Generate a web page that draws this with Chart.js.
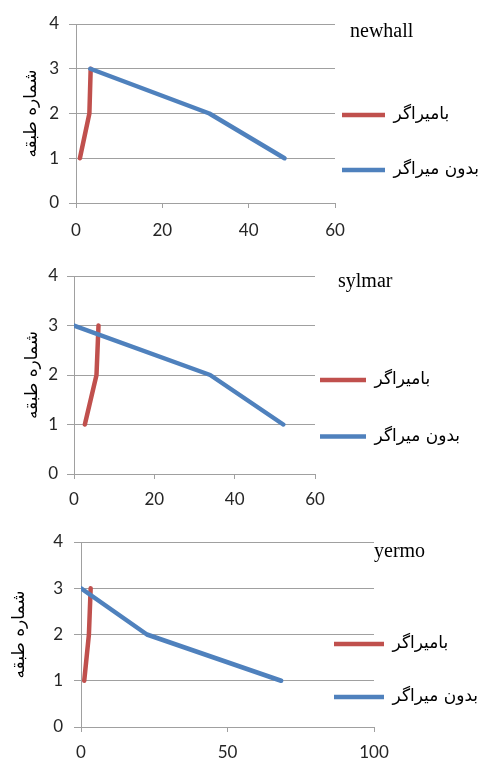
<!DOCTYPE html>
<html>
<head>
<meta charset="utf-8">
<script src="https://cdn.jsdelivr.net/npm/chart.js@4.4.1/dist/chart.umd.min.js"></script>
<style>
  html, body { margin: 0; padding: 0; background: #ffffff; }
  .panel { position: absolute; left: 0; width: 489px; }
  .panel canvas { display: block; }
</style>
</head>
<body>
<div class="panel" style="top:0;height:250px"><canvas id="newhall" width="489" height="250"></canvas></div>
<div class="panel" style="top:250px;height:260px"><canvas id="sylmar" width="489" height="260"></canvas></div>
<div class="panel" style="top:510px;height:252px"><canvas id="yermo" width="489" height="252"></canvas></div>
<script>
// Storey numbers shared by every record
const floors = [1, 2, 3];
const seriesNames = ['بامیراگر', 'بدون میراگر'];
const yAxisTitle = 'شماره طبقه';
const records = ['newhall', 'sylmar', 'yermo'];

// Storey response per record, listed floor 1 → 3
const newhallDamped   = [0.9, 3.1, 3.4];
const newhallUndamped = [48.3, 30.9, 3.3];
const sylmarDamped    = [2.7, 5.6, 6.1];
const sylmarUndamped  = [52.1, 33.9, 0];
const yermoDamped     = [1.1, 2.7, 3.3];
const yermoUndamped   = [68.3, 22.5, 0];

// Tick labels
const yTicks = [0, 1, 2, 3, 4];
const xTicks60 = [0, 20, 40, 60];
const xTicks100 = [0, 50, 100];

const RED = '#C0504D';
const BLUE = '#4F81BD';
const GRID = '#a0a0a0';
const TEXT = '#262626';
const ARABIC = "'DejaVu Sans', sans-serif";
const LEGEND_FONT = 17;

// Moves the legend column to a fixed spot next to the plot
const legendPin = {
  id: 'legendPin',
  afterLayout(chart, args, opts) {
    const lg = chart.legend;
    if (!lg) return;
    const pad = opts.gap - LEGEND_FONT;
    lg.left = opts.x - pad;
    lg.right = lg.left + lg.width;
    lg.top = opts.y - LEGEND_FONT / 2 - pad;
    lg.bottom = chart.height * 3;
  }
};

// Record name written above the legend
const caption = {
  id: 'caption',
  afterDraw(chart, args, o) {
    const ctx = chart.ctx;
    ctx.save();
    ctx.font = "20px 'Liberation Serif', 'Times New Roman', serif";
    ctx.fillStyle = '#000000';
    ctx.textAlign = 'left';
    ctx.textBaseline = 'alphabetic';
    ctx.fillText(o.text, o.x, o.y);
    ctx.restore();
  }
};

function points(values) {
  return floors.map((f, i) => ({ x: values[i], y: f }));
}

function tickSetter(list) {
  return (scale) => { scale.ticks = list.map(v => ({ value: v })); };
}

function drawPanel(id, cfg) {
  const h = document.getElementById(id).height;
  const xAxisHeight = h - cfg.area.bottom;
  new Chart(document.getElementById(id), {
    type: 'scatter',
    data: {
      datasets: [
        {
          label: seriesNames[0],
          data: points(cfg.damped),
          borderColor: RED,
          backgroundColor: RED,
          order: 1
        },
        {
          label: seriesNames[1],
          data: points(cfg.undamped),
          borderColor: BLUE,
          backgroundColor: BLUE,
          order: 0
        }
      ].map(ds => Object.assign(ds, {
        showLine: true,
        borderWidth: 4.5,
        pointRadius: 0,
        pointHoverRadius: 0,
        borderCapStyle: 'round',
        borderJoinStyle: 'round',
        tension: 0
      }))
    },
    options: {
      responsive: false,
      animation: false,
      events: [],
      layout: {
        padding: {
          left: 0,
          top: cfg.area.top,
          right: 489 - cfg.area.right,
          bottom: 0
        }
      },
      scales: {
        x: {
          type: 'linear',
          min: 0,
          max: cfg.xMax,
          afterBuildTicks: tickSetter(cfg.xTicks),
          afterFit: (s) => { s.height = xAxisHeight; },
          grid: { drawOnChartArea: false, drawTicks: true, tickLength: 5, color: GRID, lineWidth: 1 },
          border: { display: true, color: GRID, width: 1 },
          ticks: {
            padding: cfg.xPad,
            maxRotation: 0,
            color: TEXT,
            font: { family: 'Lato', size: 17 }
          }
        },
        y: {
          type: 'linear',
          min: 0,
          max: 4,
          afterBuildTicks: tickSetter(yTicks),
          afterFit: (s) => { s.width = cfg.area.left; },
          grid: { drawTicks: true, tickLength: 7, color: GRID, lineWidth: 1 },
          border: { display: true, color: GRID, width: 1 },
          ticks: {
            padding: cfg.yPad,
            color: TEXT,
            font: { family: 'Lato', size: 17 }
          },
          title: {
            display: true,
            text: yAxisTitle,
            color: '#000000',
            font: { family: ARABIC, size: 17 },
            padding: { top: cfg.titleX, bottom: 0 }
          }
        }
      },
      plugins: {
        tooltip: { enabled: false },
        legend: {
          display: true,
          position: 'chartArea',
          align: 'start',
          labels: {
            usePointStyle: true,
            pointStyle: 'line',
            pointStyleWidth: cfg.legend.w,
            boxWidth: cfg.legend.w,
            padding: cfg.legend.gap - LEGEND_FONT,
            color: '#000000',
            font: { family: ARABIC, size: LEGEND_FONT },
            sort: (a, b) => a.datasetIndex - b.datasetIndex
          }
        },
        legendPin: { x: cfg.legend.x, y: cfg.legend.y, gap: cfg.legend.gap },
        caption: { text: cfg.name, x: cfg.nameX, y: cfg.nameY }
      }
    },
    plugins: [legendPin, caption]
  });
}

drawPanel('newhall', {
  name: records[0], nameX: 350, nameY: 36.5,
  damped: newhallDamped, undamped: newhallUndamped,
  xMax: 60, xTicks: xTicks60,
  area: { left: 76, right: 335, top: 24, bottom: 203 },
  xPad: 12, yPad: 10, titleX: 21,
  legend: { x: 342, y: 115, w: 43, gap: 55 }
});

drawPanel('sylmar', {
  name: records[1], nameX: 338, nameY: 36.5,
  damped: sylmarDamped, undamped: sylmarUndamped,
  xMax: 60, xTicks: xTicks60,
  area: { left: 74, right: 315, top: 26, bottom: 224 },
  xPad: 10, yPad: 9, titleX: 22,
  legend: { x: 320, y: 130, w: 46, gap: 56.5 }
});

drawPanel('yermo', {
  name: records[2], nameX: 374, nameY: 47,
  damped: yermoDamped, undamped: yermoUndamped,
  xMax: 100, xTicks: xTicks100,
  area: { left: 81, right: 374, top: 32, bottom: 217 },
  xPad: 10, yPad: 11, titleX: 9,
  legend: { x: 334, y: 134, w: 50, gap: 53 }
});
</script>
</body>
</html>
